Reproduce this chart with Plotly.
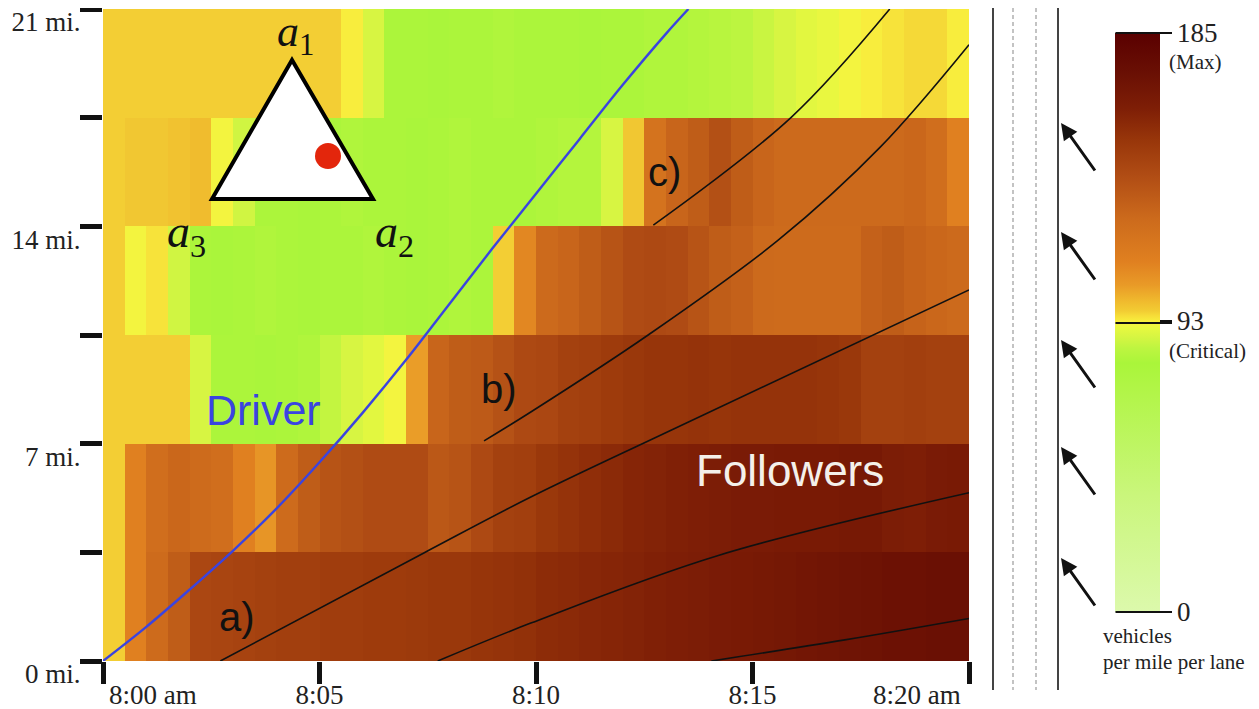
import plotly.graph_objects as go

# ---------------- data ----------------
time_bin_minutes = [0.25 + 0.5 * i for i in range(40)]          # 30-second bins after 8:00
segment_mid_miles = [1.75, 5.25, 8.75, 12.25, 15.75, 19.25]      # 3.5-mile road segments

density_0_to_3p5 = [96, 112, 125, 132, 142, 143, 144, 145, 146, 146, 147, 147, 148, 148, 149, 150, 150, 151, 152, 153,
                    155, 156, 157, 158, 159, 160, 161, 162, 163, 164, 165, 166, 167, 168, 169, 170, 171, 171, 172, 172]
density_3p5_to_7 = [96, 112, 123, 127, 125, 123, 112, 106, 125, 132, 136, 138, 140, 140, 140, 134, 136, 141, 145, 146,
                    150, 152, 154, 156, 158, 159, 160, 161, 162, 163, 163, 164, 164, 164, 165, 165, 162, 161, 163, 164]
density_7_to_10p5 = [96, 96, 96, 96, 88, 80, 80, 79, 80, 81, 85, 88, 90, 92, 104, 128, 132, 133, 137, 141,
                     142, 145, 146, 148, 150, 151, 151, 152, 151, 152, 152, 152, 152, 151, 150, 145, 145, 146, 145, 145]
density_10p5_to_14 = [96, 92, 94, 87, 80, 79, 80, 81, 80, 79, 80, 80, 81, 80, 79, 80, 81, 80, 96, 110,
                      126, 128, 132, 136, 140, 141, 140, 136, 132, 130, 126, 125, 125, 125, 125, 130, 132, 129, 127, 126]
density_14_to_17p5 = [96, 97, 97, 98, 99, 92, 87, 80, 80, 79, 80, 81, 80, 80, 79, 80, 81, 80, 80, 80,
                      81, 82, 82, 88, 97, 120, 128, 132, 138, 132, 128, 126, 126, 126, 126, 126, 126, 127, 123, 112]
density_17p5_to_21 = [96, 96, 96, 96, 96, 96, 96, 96, 96, 96, 96, 93, 88, 80, 80, 79, 80, 80, 81, 80,
                      80, 80, 79, 80, 80, 81, 81, 82, 83, 84, 86, 88, 90, 91, 92, 93, 94, 95, 95, 93]

driver_minutes = [0, 1, 2, 3, 4, 5, 6, 7, 8, 9, 10, 11, 12, 13, 13.52]
driver_miles = [0, 1.1, 2.3, 3.55, 4.9, 6.4, 8.0, 9.7, 11.5, 13.3, 15.05, 16.8, 18.55, 20.2, 21.0]

follower_a_minutes = [2.71, 7.41, 9.88, 13.13, 20.0]
follower_a_miles = [0, 3.48, 5.28, 7.44, 11.95]
follower_b_minutes = [8.80, 9.88, 12.59, 15.6, 17.95, 20.0]
follower_b_miles = [7.09, 8.02, 10.5, 13.56, 16.55, 19.85]
follower_c_minutes = [12.71, 15.90, 18.17]
follower_c_miles = [14.04, 17.52, 21.0]
follower_d_minutes = [7.73, 9.88, 14.21, 20.0]
follower_d_miles = [0, 1.22, 3.4, 5.42]
follower_e_minutes = [14.05, 17.13, 20.0]
follower_e_miles = [0, 0.68, 1.37]

x_tick_vals = [0, 5, 10, 15, 20]
x_tick_text = ["8:00 am", "8:05", "8:10", "8:15", "8:20 am"]
y_tick_vals = [0, 3.5, 7, 10.5, 14, 17.5, 21]
y_tick_text = ["0 mi.", "", "7 mi.", "", "14 mi.", "", "21 mi."]
cbar_tick_vals = [0, 93, 185]
cbar_tick_text = ["0", "93", "185"]

# ---------------- layout geometry ----------------
OFF = 8                      # page body margin of the html page
W, H = 1259 - OFF, 709 - OFF
L, R, T, B = 103, 969, 9, 661   # plot area in screen pixels
X_MAX, Y_MAX = 20, 21


def dx(px):   # screen pixel -> minutes
    return (px - L) / (R - L) * X_MAX


def dy(py):   # screen pixel -> miles
    return (B - py) / (B - T) * Y_MAX


def px_(px):  # screen pixel -> paper x
    return (px - L) / (R - L)


def py_(py):  # screen pixel -> paper y
    return (B - py) / (B - T)


colorscale = [
    [0.0, "#dcf9ac"], [0.2, "#caf67c"], [0.38, "#b2f548"], [0.43, "#aaf53a"],
    [0.455, "#bdf540"], [0.475, "#d6f542"], [0.49, "#e6f840"], [0.5, "#f8f23e"],
    [0.512, "#f6dc38"], [0.52, "#f2cc33"], [0.535, "#f0bc2e"], [0.565, "#e99a27"],
    [0.605, "#e08020"], [0.68, "#cc6a1c"], [0.755, "#b04c14"], [0.815, "#98360a"],
    [0.87, "#7e1e06"], [0.93, "#6a1004"], [1.0, "#5a0000"],
]

z = [density_0_to_3p5, density_3p5_to_7, density_7_to_10p5,
     density_10p5_to_14, density_14_to_17p5, density_17p5_to_21]

serif = "Liberation Serif"
sans = "Liberation Sans"

fig = go.Figure()
fig.add_trace(go.Heatmap(
    x=time_bin_minutes, y=segment_mid_miles, z=z,
    zmin=0, zmax=185, colorscale=colorscale,
    colorbar=dict(
        xref="container", x=(1115 - OFF) / W, xanchor="left", xpad=0,
        yref="container", y=1 - (322.5 - OFF + 23.5) / H, yanchor="middle", ypad=0,
        thickness=45, lenmode="pixels", len=579, outlinewidth=0,
        tickvals=cbar_tick_vals, ticktext=cbar_tick_text,
        ticks="outside", ticklen=12, tickwidth=2, tickcolor="#111",
        tickfont=dict(family=serif, size=27, color="#222"), ticklabeloverflow="allow",
    ),
    hoverinfo="skip",
))

for xs, ys in [(follower_a_minutes, follower_a_miles), (follower_b_minutes, follower_b_miles),
               (follower_c_minutes, follower_c_miles), (follower_d_minutes, follower_d_miles),
               (follower_e_minutes, follower_e_miles)]:
    fig.add_trace(go.Scatter(x=xs, y=ys, mode="lines", line=dict(color="#111", width=1.6, shape="spline"),
                             showlegend=False, hoverinfo="skip"))

fig.add_trace(go.Scatter(x=driver_minutes, y=driver_miles, mode="lines",
                         line=dict(color="#3a44e0", width=2.4, shape="spline"),
                         showlegend=False, hoverinfo="skip"))

shapes = []
# triangle inset
tri = [(292, 60), (212, 199), (373, 199)]
path = "M {} {} L {} {} L {} {} Z".format(*[v for p in tri for v in (dx(p[0]), dy(p[1]))])
shapes.append(dict(type="path", xref="x", yref="y", path=path, fillcolor="white",
                   line=dict(color="black", width=4)))
r = 13
shapes.append(dict(type="circle", xref="x", yref="y", x0=dx(328 - r), x1=dx(328 + r), y0=dy(156 + r), y1=dy(156 - r),
                   fillcolor="#e3260c", line=dict(width=0)))
# road lanes
for xpx, col, wdt, dash in [(993, "#444", 2, "solid"), (1013, "#b0b0b0", 1.5, "4px,3px"),
                            (1036, "#b0b0b0", 1.5, "4px,3px"), (1058, "#444", 2, "solid")]:
    shapes.append(dict(type="line", xref="paper", yref="paper", x0=px_(xpx), x1=px_(xpx),
                       y0=py_(8), y1=py_(690), line=dict(color=col, width=wdt, dash=dash)))

annotations = []
# on-ramp arrows
for ypx in [123, 232, 340, 447, 558]:
    annotations.append(dict(xref="paper", yref="paper", x=px_(1061), y=py_(ypx), ax=35, ay=49,
                            showarrow=True, arrowhead=2, arrowsize=1.1, arrowwidth=3, arrowcolor="#111",
                            text="", standoff=0))
# colorbar level lines drawn across the bar
for ypx in [33, 323, 612]:
    annotations.append(dict(xref="paper", yref="paper", x=px_(1172), y=py_(ypx), ax=-58, ay=0,
                            showarrow=True, arrowhead=0, arrowwidth=2, arrowcolor="#111",
                            text="", standoff=0))


def label(txt, xpx, ypx, size, color="#111", family=sans, anchor="center"):
    annotations.append(dict(xref="x", yref="y", x=dx(xpx), y=dy(ypx), text=txt, showarrow=False,
                            xanchor=anchor, yanchor="middle", font=dict(family=family, size=size, color=color)))


label("<i>a</i><sub>1</sub>", 295, 34, 44, family=serif)
label("<i>a</i><sub>3</sub>", 186, 235, 46, family=serif)
label("<i>a</i><sub>2</sub>", 394, 235, 46, family=serif)
label("Driver", 263, 410, 43, color="#3a44e0")
label("a)", 237, 617, 40)
label("b)", 499, 389, 40)
label("c)", 664, 172, 40)
label("Followers", 790, 470, 44, color="#f4f0ea")

# first and last time labels sit beside their ticks rather than centred on them
annotations.append(dict(xref="x", yref="paper", x=x_tick_vals[0], y=py_(695), xshift=4, text=x_tick_text[0],
                        showarrow=False, xanchor="left", yanchor="middle",
                        font=dict(family=serif, size=27, color="#222")))
annotations.append(dict(xref="x", yref="paper", x=x_tick_vals[-1], y=py_(695), xshift=-6, text=x_tick_text[-1],
                        showarrow=False, xanchor="right", yanchor="middle",
                        font=dict(family=serif, size=27, color="#222")))


def plabel(txt, xpx, ypx, size, anchor="center"):
    annotations.append(dict(xref="paper", yref="paper", x=px_(xpx), y=py_(ypx), text=txt, showarrow=False,
                            xanchor=anchor, yanchor="middle", font=dict(family=serif, size=size, color="#222")))


plabel("(Max)", 1195, 62, 21)
plabel("(Critical)", 1207, 351, 21)
plabel("vehicles", 1101, 636, 21, anchor="left")
plabel("per mile per lane", 1101, 662, 21, anchor="left")

fig.update_layout(
    width=W, height=H, template="none",
    margin=dict(l=L - OFF, r=W - (R - OFF), t=T - OFF, b=H - (B - OFF), autoexpand=False),
    paper_bgcolor="white", plot_bgcolor="white",
    shapes=shapes, annotations=annotations, showlegend=False,
    xaxis=dict(range=[0, X_MAX], tickvals=x_tick_vals,
               ticktext=[""] + x_tick_text[1:4] + [""],
               ticks="outside", ticklen=22, tickwidth=5, tickcolor="#111",
               tickfont=dict(family=serif, size=27, color="#222"), ticklabelstandoff=-12,
               ticklabeloverflow="allow",
               showgrid=False, zeroline=False, showline=False, automargin=False),
    yaxis=dict(range=[0, Y_MAX], tickvals=y_tick_vals, ticktext=y_tick_text,
               ticks="outside", ticklen=22, tickwidth=5, tickcolor="#111",
               tickfont=dict(family=serif, size=27, color="#222"), ticklabelshift=13, ticklabelstandoff=-6,
               ticklabeloverflow="allow",
               showgrid=False, zeroline=False, showline=False, automargin=False),
)

fig.write_html("out.html")
